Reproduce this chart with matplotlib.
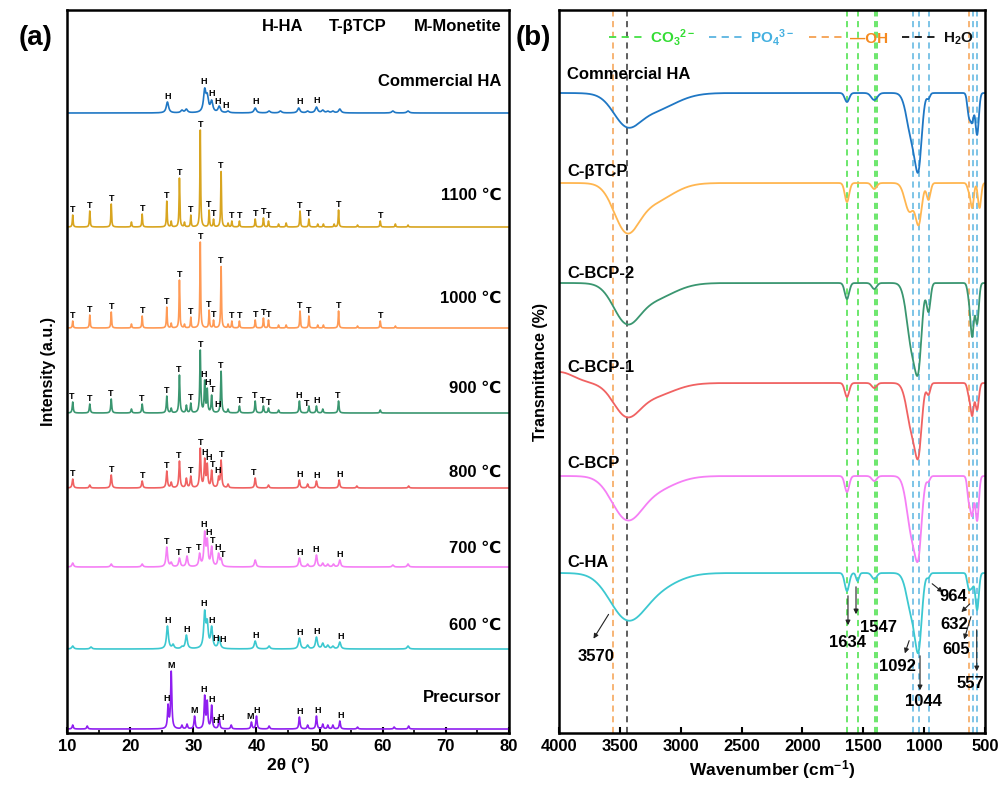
import numpy as np
import matplotlib.pyplot as plt
from matplotlib.lines import Line2D
from matplotlib.ticker import MultipleLocator

plt.rcParams['font.family'] = ['Liberation Sans', 'DejaVu Sans']
plt.rcParams['font.weight'] = 'bold'
plt.rcParams['axes.labelweight'] = 'bold'
plt.rcParams['mathtext.fontset'] = 'custom'
plt.rcParams['mathtext.rm'] = 'Liberation Sans:bold'
plt.rcParams['mathtext.bf'] = 'Liberation Sans:bold'
plt.rcParams['mathtext.default'] = 'rm'

# ---------------- XRD data: (2theta, peak height) ----------------
xrd_names = ['Commercial HA', '1100 ℃', '1000 ℃', '900 ℃', '800 ℃', '700 ℃', '600 ℃', 'Precursor']
xrd_colors = ['#1f77c4', '#d8a520', '#ff9a55', '#3a9670', '#f06262', '#f57ff5', '#3cc8d0', '#8f1ff0']
xrd_offsets = [620, 506, 405, 320, 245, 166, 84, 4]
xrd_widths = [0.22, 0.07, 0.07, 0.09, 0.11, 0.15, 0.18, 0.11]

peaks_cha = [(25.9, 11), (28.2, 3), (28.9, 4), (31.8, 25), (32.2, 20), (32.9, 13), (34.1, 7), (35.5, 2),
             (39.8, 5), (42.0, 2), (43.8, 2), (46.7, 5), (48.1, 2), (49.5, 6), (50.5, 3), (51.3, 2),
             (52.1, 2), (53.2, 4), (61.6, 2), (64.0, 2)]
peaks_1100 = [(10.9, 12), (13.6, 16), (17.0, 23), (20.2, 5), (21.9, 13), (25.8, 26), (26.5, 6), (27.8, 49),
              (28.6, 5), (29.6, 12), (31.1, 97), (32.5, 17), (33.2, 8), (34.4, 56), (35.5, 4), (36.1, 6),
              (37.3, 6), (39.8, 8), (41.1, 9), (41.9, 6), (43.5, 3), (44.7, 4), (46.9, 16), (48.3, 8),
              (49.7, 3), (50.6, 3), (52.3, 3), (53.0, 17), (56.0, 2), (59.6, 6), (62.0, 3), (64.0, 2)]
peaks_1000 = [(10.9, 7), (13.6, 13), (17.0, 16), (20.2, 4), (21.9, 12), (25.8, 21), (26.5, 5), (27.8, 48),
              (28.6, 4), (29.6, 11), (31.1, 86), (32.5, 18), (33.2, 8), (34.4, 62), (35.5, 4), (36.1, 7),
              (37.3, 7), (39.8, 8), (41.1, 10), (41.9, 8), (43.5, 3), (44.7, 3), (46.9, 17), (48.3, 12),
              (49.7, 3), (50.6, 3), (53.0, 17), (56.0, 2), (59.6, 7), (62.0, 2)]
peaks_900 = [(10.9, 11), (13.6, 9), (17.0, 14), (20.2, 4), (21.9, 9), (25.8, 17), (26.5, 5), (27.8, 38),
             (28.9, 8), (29.6, 10), (31.1, 63), (31.8, 33), (32.2, 25), (32.9, 18), (34.4, 42), (35.5, 4),
             (37.3, 7), (39.8, 12), (41.1, 7), (41.9, 5), (43.5, 3), (46.8, 12), (48.3, 7), (49.5, 7),
             (50.5, 4), (53.0, 12), (59.6, 3)]
peaks_800 = [(10.9, 9), (13.6, 3), (17.0, 13), (21.9, 7), (25.8, 17), (26.5, 6), (27.8, 27), (28.9, 10),
             (29.6, 12), (31.1, 40), (31.8, 30), (32.2, 25), (32.9, 18), (34.0, 12), (34.4, 28), (35.5, 4),
             (39.8, 10), (41.9, 3), (46.8, 8), (48.1, 4), (49.5, 7), (53.1, 8), (55.9, 2), (64.1, 2)]
peaks_700 = [(10.9, 4), (17.0, 3), (21.9, 3), (25.8, 20), (26.5, 5), (27.8, 9), (29.0, 11), (31.0, 14),
             (31.8, 36), (32.2, 29), (32.9, 21), (34.0, 14), (34.4, 9), (39.8, 7), (46.8, 9), (48.1, 3),
             (49.5, 12), (50.5, 4), (51.3, 3), (52.2, 3), (53.2, 7), (61.6, 2), (64.0, 3)]
peaks_600 = [(10.9, 3), (13.8, 2), (25.9, 23), (26.8, 5), (28.2, 3), (28.9, 14), (31.8, 39), (32.2, 30),
             (32.9, 23), (34.1, 12), (39.8, 8), (42.0, 3), (46.8, 11), (48.1, 4), (49.5, 12), (50.5, 6),
             (51.3, 4), (52.1, 3), (53.2, 7), (64.0, 3)]
peaks_pre = [(10.9, 4), (13.2, 3), (26.0, 25), (26.5, 58), (28.2, 4), (29.0, 5), (30.2, 13), (31.8, 34),
             (32.2, 29), (32.9, 24), (34.1, 11), (36.0, 4), (39.2, 7), (40.0, 13), (42.0, 3), (46.8, 12),
             (48.1, 4), (49.5, 13), (50.5, 5), (51.3, 4), (52.1, 4), (53.2, 8), (56.0, 2), (61.8, 2), (64.1, 3)]
xrd_peaks = [peaks_cha, peaks_1100, peaks_1000, peaks_900, peaks_800, peaks_700, peaks_600, peaks_pre]

T_list = [10.9, 13.6, 17.0, 21.9, 25.8, 27.8, 29.6, 31.1, 32.5, 33.2, 34.4, 36.1, 37.3, 39.8,
          41.1, 41.9, 46.9, 48.3, 53.0, 59.6]
lab_cha = [(26.0, 'H'), (31.7, 'H'), (32.9, 'H'), (33.8, 'H'), (35.1, 'H'), (39.9, 'H'), (46.9, 'H'), (49.6, 'H')]
lab_1100 = [(t, 'T') for t in T_list]
lab_1000 = [(t, 'T') for t in T_list]
lab_900 = [(10.8, 'T'), (13.5, 'T'), (16.9, 'T'), (21.8, 'T'), (25.8, 'T'), (27.7, 'T'), (29.5, 'T'), (31.1, 'T'),
           (31.7, 'H'), (32.3, 'H'), (33.0, 'T'), (33.8, 'H'), (34.4, 'T'), (37.3, 'T'), (39.7, 'T'),
           (40.9, 'T'), (42.0, 'T'), (46.7, 'H'), (48.0, 'T'), (49.5, 'H'), (52.9, 'T')]
lab_800 = [(10.9, 'T'), (17.0, 'T'), (21.9, 'T'), (25.8, 'T'), (27.7, 'T'), (29.6, 'T'), (31.1, 'T'), (31.8, 'H'),
           (32.4, 'H'), (33.0, 'T'), (33.8, 'H'), (34.5, 'T'), (39.6, 'T'), (46.8, 'H'), (49.5, 'H'), (53.1, 'H')]
lab_700 = [(25.8, 'T'), (27.7, 'T'), (29.2, 'T'), (30.9, 'T'), (31.7, 'H'), (32.4, 'H'), (33.0, 'T'),
           (33.8, 'H'), (34.7, 'T'), (46.8, 'H'), (49.4, 'H'), (53.2, 'H')]
lab_600 = [(25.9, 'H'), (28.9, 'H'), (31.7, 'H'), (32.9, 'H'), (33.6, 'H'), (34.6, 'H'), (39.9, 'H'),
           (46.8, 'H'), (49.5, 'H'), (53.3, 'H')]
lab_pre = [(25.8, 'H'), (26.5, 'M'), (30.2, 'M'), (31.7, 'H'), (32.9, 'H'), (33.5, 'H'), (34.4, 'H'),
           (39.0, 'M'), (40.0, 'H'), (46.8, 'H'), (49.7, 'H'), (53.4, 'H')]
xrd_labels = [lab_cha, lab_1100, lab_1000, lab_900, lab_800, lab_700, lab_600, lab_pre]
xrd_name_y = [651, 538, 435, 345, 261, 185, 108, 36]

# ---------------- FTIR data: (wavenumber, band depth, band width) ----------------
ir_names = ['Commercial HA', 'C-βTCP', 'C-BCP-2', 'C-BCP-1', 'C-BCP', 'C-HA']
ir_colors = ['#1f77c4', '#ffb650', '#3a9670', '#f06262', '#f57ff5', '#3cc8d0']
ir_offsets = [640, 550, 450, 350, 257, 160]
ir_name_y = [658, 561, 460, 366, 270, 171]

bands_cha = [(3450, 34, 105), (3250, 22, 190), (1634, 9, 18), (1410, 7, 25),
             (1092, 57, 45), (1044, 77, 25), (964, 6, 12), (632, 25, 13), (605, 30, 13), (565, 42, 14)]
bands_tcp = [(3450, 50, 100), (3250, 25, 170), (1634, 19, 18), (1410, 6, 20),
             (1120, 29, 38), (1044, 42, 25), (964, 17, 16), (632, 10, 13), (605, 25, 13), (545, 25, 13)]
bands_bcp2 = [(3450, 41, 105), (3250, 22, 180), (1634, 16, 18), (1410, 6, 20),
              (1092, 77, 45), (1044, 87, 25), (964, 29, 16), (632, 20, 13), (605, 54, 14), (565, 41, 14)]
bands_bcp1 = [(4000, -11, 120), (3450, 34, 105), (3250, 18, 180), (1634, 14, 18),
              (1410, 5, 20), (1092, 58, 45), (1044, 73, 25), (964, 12, 14), (632, 15, 13), (605, 33, 13),
              (565, 27, 14)]
bands_bcp = [(3450, 44, 120), (3250, 24, 180), (1634, 16, 18), (1410, 5, 20),
             (1092, 70, 45), (1044, 81, 25), (964, 6, 12), (632, 28, 13), (605, 40, 13), (565, 45, 14)]
bands_ha = [(3450, 47, 140), (3250, 30, 190), (1634, 18, 18), (1547, 8, 12),
            (1410, 6, 20), (1092, 53, 45), (1044, 78, 25), (964, 5, 12), (632, 17, 13), (605, 15, 13),
            (565, 37, 14)]
ir_bands = [bands_cha, bands_tcp, bands_bcp2, bands_bcp1, bands_bcp, bands_ha]

# reference lines (wavenumber, group)
vlines_co3 = [1630, 1545, 1405, 1385]
vlines_po4 = [1089, 1040, 960, 602, 562]
vlines_oh = [3560, 632]
vlines_h2o = [3440]

# annotations in C-HA: label, text (x, y), arrow tail, arrow head
ann = [('3570', (3696, 77), (3581, 121), (3729, 92)),
       ('1634', (1626, 91), (1626, 140), (1626, 105)),
       ('1547', (1379, 106), (1560, 149), (1560, 116)),
       ('1092', (1223, 67), (1116, 95), (1166, 77)),
       ('1044', (1010, 32), (1034, 80), (1034, 40)),
       ('964', (763, 137), (952, 151), (829, 139)),
       ('632', (755, 109), (609, 131), (711, 119)),
       ('605', (733, 84), (609, 119), (678, 91)),
       ('557', (618, 50), (568, 106), (568, 59))]


def peak_profile(x, peaks, width):
    # Lorentzian peaks scaled so each reaches its read height at its position
    c = np.array([p[0] for p in peaks])
    h = np.array([p[1] for p in peaks], dtype=float)
    m = 1.0 / (1.0 + ((c[:, None] - c[None, :]) / width) ** 2)
    a = np.clip(np.linalg.lstsq(m, h, rcond=None)[0], 0, None)
    return (a[None, :] / (1.0 + ((x[:, None] - c[None, :]) / width) ** 2)).sum(axis=1)


def band_profile(x, bands):
    c = np.array([b[0] for b in bands], dtype=float)
    d = np.array([b[1] for b in bands], dtype=float)
    s = np.array([b[2] for b in bands], dtype=float)
    m = np.exp(-0.5 * ((c[:, None] - c[None, :]) / s[None, :]) ** 2)
    a = np.linalg.lstsq(m, d, rcond=None)[0]
    return (a[None, :] * np.exp(-0.5 * ((x[:, None] - c[None, :]) / s[None, :]) ** 2)).sum(axis=1)


fig = plt.figure(figsize=(10.08, 7.87), dpi=100)
ax1 = fig.add_axes([0.0665, 0.0686, 0.4385, 0.9187])
ax2 = fig.add_axes([0.5546, 0.0686, 0.4226, 0.9187])

# ---------------- panel (a) ----------------
tt = np.linspace(10, 80, 5000)
for name, col, off, wd, pk, labs, ny in zip(xrd_names, xrd_colors, xrd_offsets, xrd_widths,
                                             xrd_peaks, xrd_labels, xrd_name_y):
    y = off + peak_profile(tt, pk, wd)
    ax1.plot(tt, y, color=col, lw=1.2)
    for pos, letter in labs:
        sel = np.abs(tt - pos) < 0.2
        ax1.text(pos, y[sel].max() + 1.5, letter, fontsize=6.5, ha='center', va='bottom')
    ax1.text(78.8, ny, name, fontsize=12, ha='right', va='center')

ax1.text(44.1, 706, 'H-HA', fontsize=12, ha='center', va='center')
ax1.text(56.0, 706, 'T-βTCP', fontsize=12, ha='center', va='center')
ax1.text(71.8, 706, 'M-Monetite', fontsize=12, ha='center', va='center')

ax1.set_xlim(10, 80)
ax1.set_ylim(0, 723)
ax1.set_yticks([])
ax1.xaxis.set_major_locator(MultipleLocator(10))
ax1.xaxis.set_minor_locator(MultipleLocator(5))
ax1.set_xlabel('2θ (°)', fontsize=12.5, labelpad=3)
ax1.set_ylabel('Intensity (a.u.)', fontsize=11.5, labelpad=8)

# ---------------- panel (b) ----------------
wn = np.linspace(500, 4000, 3501)
for xv in vlines_oh:
    ax2.axvline(xv, color='#f5a050', lw=1.1, ls=(0, (4, 3)))
for xv in vlines_h2o:
    ax2.axvline(xv, color='#333333', lw=1.1, ls=(0, (4, 3)))
for xv in vlines_co3:
    ax2.axvline(xv, color='#44e044', lw=1.1, ls=(0, (4, 3)))
for xv in vlines_po4:
    ax2.axvline(xv, color='#5ab4e0', lw=1.1, ls=(0, (4, 3)))

for name, col, off, bd, ny in zip(ir_names, ir_colors, ir_offsets, ir_bands, ir_name_y):
    y = off - band_profile(wn, bd)
    ax2.plot(wn, y, color=col, lw=1.3)
    ax2.text(3935, ny, name, fontsize=12, ha='left', va='center')

for lab, txy, tail, head in ann:
    ax2.annotate('', xy=head, xytext=tail,
                 arrowprops=dict(arrowstyle='-|>', color='#222222', lw=0.8, mutation_scale=7))
    ax2.text(txy[0], txy[1], lab, fontsize=12, ha='center', va='center')

handles = [Line2D([], [], color='#44e044', lw=1.3, ls=(0, (4, 3))),
           Line2D([], [], color='#5ab4e0', lw=1.3, ls=(0, (4, 3))),
           Line2D([], [], color='#f5a050', lw=1.3, ls=(0, (4, 3))),
           Line2D([], [], color='#111111', lw=1.3, ls=(0, (4, 3)))]
leg = ax2.legend(handles, ['CO$_3$$^{2-}$', 'PO$_4$$^{3-}$', '—OH', 'H$_2$O'], ncol=4, frameon=False,
                 loc='center', bbox_to_anchor=(0.545, 0.962), handlelength=2.4, handletextpad=0.3,
                 columnspacing=0.9, fontsize=11,
                 labelcolor=['#33dd33', '#44b0e0', '#f58a20', '#111111'])

ax2.set_xlim(4000, 500)
ax2.set_ylim(0, 723)
ax2.set_yticks([])
ax2.xaxis.set_major_locator(MultipleLocator(500))
ax2.set_xlabel('Wavenumber (cm$^{-1}$)', fontsize=12.5, labelpad=3)
ax2.set_ylabel('Transmittance (%)', fontsize=11.5, labelpad=8)

for ax in (ax1, ax2):
    for sp in ax.spines.values():
        sp.set_linewidth(1.8)
    ax.tick_params(axis='x', which='major', direction='in', length=4, width=1.5, labelsize=12, pad=4)
    ax.tick_params(axis='x', which='minor', direction='in', length=2.5, width=1.2)
    for t in ax.get_xticklabels():
        t.set_fontweight('bold')

fig.text(0.035, 0.952, '(a)', fontsize=20, fontweight='bold', ha='center', va='center')
fig.text(0.529, 0.952, '(b)', fontsize=20, fontweight='bold', ha='center', va='center')

fig.savefig('out.png', dpi=100)
